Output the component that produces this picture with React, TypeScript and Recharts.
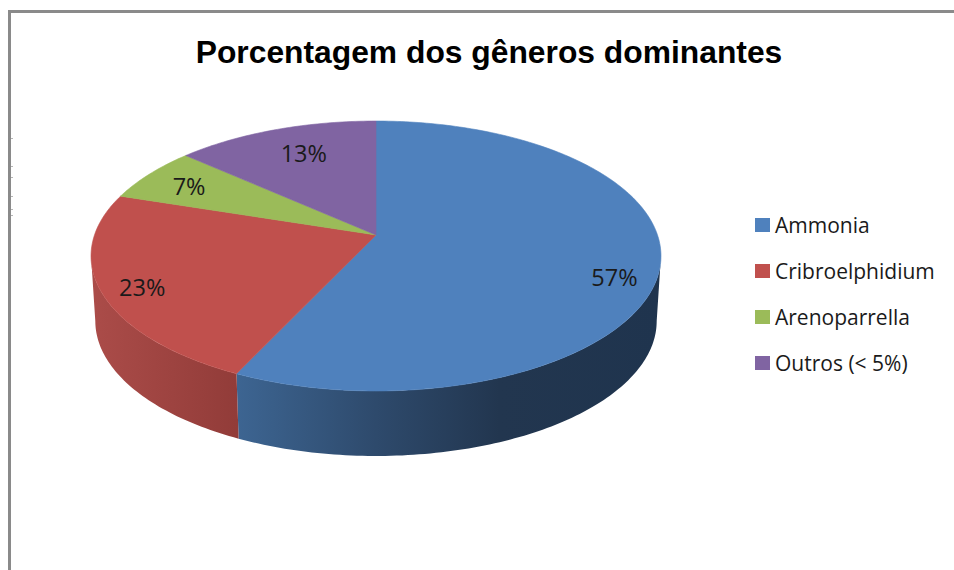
import React from "react";
import { PieChart, Pie, Cell, Legend } from "recharts";

const categories = ["Ammonia", "Cribroelphidium", "Arenoparrella", "Outros (< 5%)"];
const values = [57, 23, 6.6, 13.4];
const colors = ["#4F81BD", "#C0504D", "#9BBB59", "#8064A2"];
const titleText = "Porcentagem dos gêneros dominantes";
const borderNicks = [138, 166, 177, 196, 209, 215];

const rows = categories.map((name, i) => ({ name, value: values[i] }));

// perspective of the tilted disc
const K = 0.1556;
const SX = 2.815;
const SY = 1.317;
const DEPTH = 65;
const BOTTOM_SHRINK = 0.985;
const TANGENT = (Math.acos(-K) * 180) / Math.PI;

const project = (cx: number, cy: number, R: number, theta: number, r = 1) => {
  const t = (theta * Math.PI) / 180;
  const X = Math.sin(t) * r;
  const Y = -Math.cos(t) * r;
  const d = 1 - K * Y;
  return { x: cx + (SX * R * X) / d, y: cy + (SY * R * Y) / d };
};

const arcPoints = (cx: number, cy: number, R: number, a: number, b: number) => {
  const pts = [];
  const n = Math.max(2, Math.ceil(Math.abs(b - a)));
  for (let i = 0; i <= n; i++) pts.push(project(cx, cy, R, a + ((b - a) * i) / n));
  return pts;
};

const fmt = (p: { x: number; y: number }) => `${p.x.toFixed(2)} ${p.y.toFixed(2)}`;

const SliceShape = (props: any) => {
  const { cx, cy, outerRadius: R, startAngle, endAngle, fill } = props;
  const a = 90 - startAngle;
  const b = 90 - endAngle;
  const top = arcPoints(cx, cy, R, a, b);
  const face = `M${cx} ${cy}L` + top.map(fmt).join("L") + "Z";
  const sa = Math.max(a, TANGENT);
  const sb = Math.min(b, 360 - TANGENT);
  let side = null;
  if (sb > sa) {
    const upper = arcPoints(cx, cy, R, sa, sb);
    const lower = upper
      .map((p) => ({ x: cx + (p.x - cx) * BOTTOM_SHRINK, y: p.y + DEPTH }))
      .reverse();
    const d = "M" + upper.concat(lower).map(fmt).join("L") + "Z";
    side = <path d={d} fill={fill === colors[0] ? "url(#sideBlue)" : "url(#sideRed)"} stroke="none" />;
  }
  return (
    <g>
      <defs>
        <linearGradient id="sideBlue" gradientUnits="userSpaceOnUse" x1="236" x2="661" y1="0" y2="0">
          <stop offset="0" stopColor="#3D6592" />
          <stop offset="0.33" stopColor="#2E4A6C" />
          <stop offset="0.62" stopColor="#22364F" />
          <stop offset="1" stopColor="#1F344E" />
        </linearGradient>
        <linearGradient id="sideRed" gradientUnits="userSpaceOnUse" x1="91" x2="236" y1="0" y2="0">
          <stop offset="0" stopColor="#AB4C49" />
          <stop offset="1" stopColor="#923C39" />
        </linearGradient>
      </defs>
      {side}
      <path d={face} fill={fill} stroke={fill} strokeWidth={0.6} />
    </g>
  );
};

const LABEL_R = [0.85, 0.85, 0.8, 0.72];
const LABEL_DX = [-2, -2, -3, 3];
const LABEL_DY = [17, 5, 0, -3];
const FONT = "'Open Sans', 'Noto Sans', sans-serif";

const SliceLabel = (props: any) => {
  const { cx, cy, outerRadius: R, midAngle, percent, index } = props;
  const p = project(cx, cy, R, 90 - midAngle, LABEL_R[index]);
  return (
    <text
      x={p.x + LABEL_DX[index]}
      y={p.y + LABEL_DY[index]}
      textAnchor="middle"
      dominantBaseline="central"
      fontFamily={FONT}
      fontSize={23.5}
      fill="#1a1a1a"
    >
      {`${Math.round(percent * 100)}%`}
    </text>
  );
};

const LegendBox = ({ payload }: any) => (
  <div style={{ fontFamily: FONT, fontSize: 21, color: "#1a1a1a" }}>
    {(payload || []).map((e: any) => (
      <div key={e.value} style={{ display: "flex", alignItems: "center", height: 46, whiteSpace: "nowrap" }}>
        <span style={{ width: 15, height: 14, background: e.color, marginRight: 5, display: "inline-block" }} />
        {e.value}
      </div>
    ))}
  </div>
);

export default function App() {
  return (
    <div style={{ position: "absolute", left: 0, top: 0, width: 954, height: 570, background: "#fff", overflow: "hidden" }}>
      <div style={{ position: "absolute", left: 8, top: 10, width: 946, height: 3, background: "#8A8A8A" }} />
      <div style={{ position: "absolute", left: 8, top: 10, width: 3, height: 560, background: "#8A8A8A" }} />
      {borderNicks.map((y) => (
        <div key={y} style={{ position: "absolute", left: 11, top: y, width: 2, height: 1, background: "#B5B5B5" }} />
      ))}
      <div
        style={{
          position: "absolute",
          left: 0,
          width: 978,
          top: 32,
          textAlign: "center",
          fontFamily: "'Liberation Sans', Arial, sans-serif",
          fontWeight: 700,
          fontSize: 31.8,
          lineHeight: "40px",
          color: "#000",
        }}
      >
        {titleText}
      </div>
      <PieChart
        width={954}
        height={570}
        margin={{ top: 0, right: 0, bottom: 0, left: 0 }}
        style={{ position: "absolute", left: 0, top: 0 }}
      >
        <Pie
          data={rows}
          dataKey="value"
          nameKey="name"
          cx={376}
          cy={235}
          outerRadius={100}
          startAngle={90}
          endAngle={-270}
          stroke="none"
          isAnimationActive={false}
          shape={SliceShape}
          label={SliceLabel}
          labelLine={false}
        >
          {rows.map((r, i) => (
            <Cell key={r.name} fill={colors[i]} />
          ))}
        </Pie>
        <Legend
          content={LegendBox}
          layout="vertical"
          verticalAlign="middle"
          align="right"
          itemSorter={null}
          wrapperStyle={{ position: "absolute", left: 755, top: 202, width: 195, right: "auto", bottom: "auto" }}
        />
      </PieChart>
    </div>
  );
}
